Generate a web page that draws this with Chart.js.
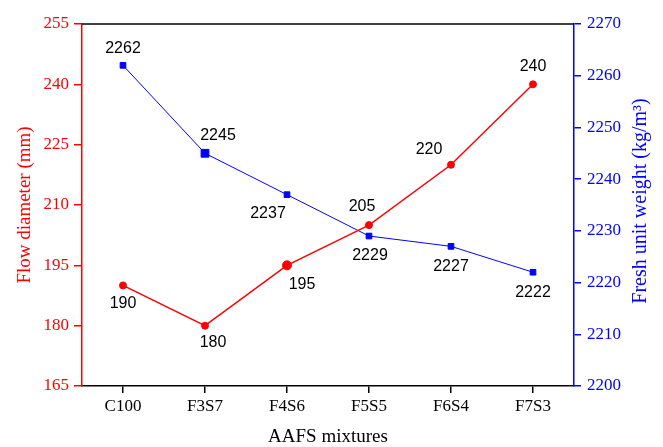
<!DOCTYPE html>
<html>
<head>
<meta charset="utf-8">
<script src="https://cdn.jsdelivr.net/npm/chart.js@4.4.1/dist/chart.umd.min.js"></script>
<style>
html,body{margin:0;padding:0;background:#fff;}
#wrap{width:663px;height:447px;position:relative;}
</style>
</head>
<body>
<div id="wrap"><canvas id="c" width="663" height="447"></canvas></div>
<script>
const categories = ['C100', 'F3S7', 'F4S6', 'F5S5', 'F6S4', 'F7S3'];
const flowDiameter = [190, 180, 195, 205, 220, 240];
const freshUnitWeight = [2262, 2245, 2237, 2229, 2227, 2222];
const leftTicks = [165, 180, 195, 210, 225, 240, 255];
const rightTicks = [2200, 2210, 2220, 2230, 2240, 2250, 2260, 2270];

// label placement offsets (dx, dy) relative to each point
const flowLabelOffsets = [[0,18],[8,17],[15,19],[-7,-19],[-22,-15],[0,-18]];
const weightLabelOffsets = [[0,-17],[13,-18],[-19,19],[1,20],[0,20],[0,20]];

const serif = '"Liberation Serif", "Times New Roman", serif';
const sans = '"Liberation Sans", Arial, sans-serif';

const labelPlugin = {
  id: 'pointLabels',
  afterDatasetsDraw(chart) {
    const ctx = chart.ctx;
    ctx.save();
    ctx.font = '16px ' + sans;
    ctx.fillStyle = '#000';
    ctx.textAlign = 'center';
    ctx.textBaseline = 'middle';
    const sets = [[0, flowDiameter, flowLabelOffsets], [1, freshUnitWeight, weightLabelOffsets]];
    sets.forEach(([di, vals, offs]) => {
      const meta = chart.getDatasetMeta(di);
      meta.data.forEach((pt, i) => {
        ctx.fillText(String(vals[i]), pt.x + offs[i][0], pt.y + offs[i][1]);
      });
    });
    ctx.restore();
  },
  afterDraw(chart) {
    const ctx = chart.ctx;
    const a = chart.chartArea;
    ctx.save();
    // top border
    ctx.strokeStyle = '#000';
    ctx.lineWidth = 1.5;
    ctx.beginPath();
    ctx.moveTo(a.left, a.top);
    ctx.lineTo(a.right, a.top);
    ctx.stroke();
    // right axis title, reading bottom to top
    const cx = 641, cy = (a.top + a.bottom) / 2 - 4;
    ctx.translate(cx, cy);
    ctx.rotate(-Math.PI / 2);
    ctx.fillStyle = '#0000ff';
    ctx.font = '20px ' + serif;
    ctx.textAlign = 'center';
    ctx.textBaseline = 'middle';
    ctx.fillText('Fresh unit weight (kg/m\u00B3)', 0, 0);
    ctx.restore();
  }
};

new Chart(document.getElementById('c'), {
  type: 'line',
  data: {
    labels: categories,
    datasets: [
      {
        label: 'Flow diameter',
        data: flowDiameter,
        yAxisID: 'y',
        borderColor: '#ff0000',
        backgroundColor: '#ff0000',
        borderWidth: 1.5,
        pointStyle: 'circle',
        pointRadius: [3.5, 3.5, 4.5, 3.5, 3.5, 3.5],
        pointBorderWidth: 1,
        tension: 0
      },
      {
        label: 'Fresh unit weight',
        data: freshUnitWeight,
        yAxisID: 'y1',
        borderColor: '#0000ff',
        backgroundColor: '#0000ff',
        borderWidth: 1,
        pointStyle: 'rect',
        pointRadius: [4, 5.5, 4, 4, 4, 4],
        pointBorderWidth: 1,
        tension: 0
      }
    ]
  },
  plugins: [labelPlugin],
  options: {
    responsive: false,
    animation: false,
    devicePixelRatio: 1,
    layout: { padding: { top: 24, left: 0, right: 0, bottom: 0 } },
    plugins: { legend: { display: false }, tooltip: { enabled: false } },
    scales: {
      x: {
        type: 'category',
        offset: true,
        grid: { display: true, drawOnChartArea: false, drawTicks: true, tickLength: 7, color: '#000', lineWidth: 1.5, offset: false },
        border: { display: true, color: '#000', width: 1.5 },
        ticks: { color: '#000', font: { family: serif, size: 17 }, padding: 3, maxRotation: 0 },
        title: { display: true, text: 'AAFS mixtures', color: '#000', font: { family: serif, size: 19, lineHeight: 1 }, padding: { top: 0, bottom: 0 } },
        afterFit(scale) { scale.height = 61; }
      },
      y: {
        position: 'left',
        min: 165, max: 255,
        afterBuildTicks(scale) { scale.ticks = leftTicks.map(v => ({ value: v })); },
        grid: { display: true, drawOnChartArea: false, drawTicks: true, tickLength: 8, color: '#ff0000', lineWidth: 1.5 },
        border: { display: true, color: '#ff0000', width: 1.5 },
        ticks: { color: '#ff0000', font: { family: serif, size: 17 }, padding: 5, callback: v => String(v) },
        title: { display: true, text: 'Flow diameter (mm)', color: '#ff0000', font: { family: serif, size: 19, lineHeight: 1 }, padding: { top: 16, bottom: 0 } },
        afterFit(scale) { scale.width = 82; }
      },
      y1: {
        position: 'right',
        min: 2200, max: 2270,
        afterBuildTicks(scale) { scale.ticks = rightTicks.map(v => ({ value: v })); },
        grid: { display: true, drawOnChartArea: false, drawTicks: true, tickLength: 7, color: '#0000ff', lineWidth: 1.5 },
        border: { display: true, color: '#0000ff', width: 1.5 },
        ticks: { color: '#0000ff', font: { family: serif, size: 17 }, padding: 6, callback: v => String(v) },
        title: { display: false },
        afterFit(scale) { scale.width = 89; }
      }
    }
  }
});
</script>
</body>
</html>
